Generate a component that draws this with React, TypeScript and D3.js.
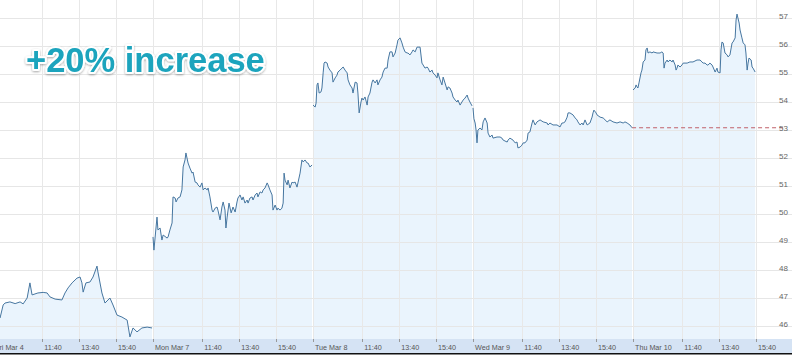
import React from "react";
import * as d3 from "d3";

// minutes since 9:00 session open, price
const friData: [number, number][] = [
  [0, 46.7], [23, 46.29], [33, 46.75], [39, 46.82], [55, 46.86], [72, 46.8], [88, 46.86], [98, 46.79],
  [111, 47.0], [120, 47.54], [127, 47.11], [146, 47.18], [163, 47.2], [176, 47.18], [185, 47.04],
  [202, 46.96], [224, 46.93], [234, 47.18], [244, 47.36], [257, 47.54], [273, 47.71], [283, 47.75],
  [289, 47.54], [293, 47.21], [302, 47.54], [315, 47.57], [325, 47.75], [338, 48.14], [341, 47.93],
  [354, 47.18], [364, 46.82], [380, 47.0], [390, 46.75], [403, 46.39], [419, 46.32], [436, 46.21],
  [445, 45.61], [455, 45.93], [468, 45.79], [484, 45.93], [501, 45.96], [517, 45.93],
];
const monData: [number, number][] = [
  [0, 49.18], [3, 48.71], [13, 49.89], [16, 49.43], [23, 49.5], [29, 49.07], [33, 49.25], [46, 49.14],
  [49, 49.18], [55, 49.43], [62, 49.68], [65, 50.61], [72, 50.57], [75, 50.43], [81, 50.57], [88, 50.61],
  [94, 50.86], [98, 51.68], [104, 51.93], [107, 52.18], [114, 51.82], [120, 51.64], [127, 51.46],
  [130, 51.5], [137, 51.14], [143, 51.11], [146, 51.04], [153, 50.96], [159, 51.11], [163, 50.86],
  [169, 50.93], [176, 50.86], [179, 50.93], [185, 50.61], [192, 50.14], [195, 50.07], [202, 50.21],
  [208, 50.25], [211, 50.14], [218, 49.79], [224, 50.25], [228, 50.43], [234, 50.14], [237, 49.5],
  [241, 49.89], [247, 50.39], [254, 50.04], [260, 50.25], [267, 50.07], [273, 50.43], [276, 50.57],
  [283, 50.68], [289, 50.5], [293, 50.61], [299, 50.39], [306, 50.5], [309, 50.39], [315, 50.57],
  [322, 50.61], [325, 50.5], [332, 50.68], [338, 50.75], [341, 50.61], [348, 50.79], [354, 50.75],
  [358, 50.86], [364, 50.93], [371, 51.11], [374, 51.04], [380, 50.86], [387, 50.68], [390, 50.14],
  [397, 50.32], [403, 50.14], [406, 50.21], [413, 50.14], [419, 50.21], [423, 50.39], [426, 51.46],
  [429, 51.21], [436, 51.04], [439, 51.21], [445, 50.93], [452, 51.14], [455, 51.11], [462, 51.14],
  [468, 50.96], [471, 51.11], [478, 51.46], [484, 51.93], [488, 51.86], [494, 51.93], [501, 51.82],
  [504, 51.82], [510, 51.68], [517, 51.75],
];
const tueData: [number, number][] = [
  [0, 53.89], [7, 53.82], [10, 53.96], [13, 54.61], [16, 54.68], [20, 54.32], [26, 54.36], [29, 54.5],
  [33, 55.04], [36, 55.39], [39, 55.43], [46, 55.39], [49, 55.25], [55, 55.14], [62, 55.04], [65, 54.71],
  [72, 54.86], [78, 54.96], [81, 55.07], [88, 55.14], [94, 55.21], [98, 55.25], [104, 55.14],
  [111, 55.04], [114, 54.79], [120, 54.61], [127, 54.5], [130, 54.32], [137, 54.71], [143, 54.68],
  [146, 54.32], [150, 53.61], [156, 54.0], [159, 54.14], [163, 54.07], [169, 54.18], [176, 53.89],
  [179, 54.18], [185, 54.32], [192, 54.71], [195, 54.79], [202, 54.68], [208, 54.79], [211, 54.61],
  [218, 54.79], [224, 54.89], [228, 55.07], [234, 55.21], [241, 55.21], [244, 55.5], [250, 55.79],
  [257, 55.79], [260, 55.61], [267, 55.75], [273, 56.04], [276, 56.21], [283, 56.29], [289, 56.11],
  [293, 55.96], [299, 55.79], [306, 55.75], [309, 55.75], [315, 55.68], [322, 55.79], [325, 55.86],
  [332, 55.79], [338, 55.96], [341, 55.96], [348, 55.96], [354, 55.39], [358, 55.32], [364, 55.21],
  [371, 55.25], [374, 55.21], [380, 55.07], [387, 55.14], [390, 55.04], [397, 54.96], [403, 54.86],
  [406, 55.04], [413, 54.79], [419, 54.61], [423, 54.89], [429, 54.68], [436, 54.43], [439, 54.54],
  [445, 54.5], [452, 54.32], [455, 54.18], [462, 54.07], [468, 54.0], [471, 54.07], [478, 53.89],
  [484, 54.0], [488, 54.07], [494, 54.14], [501, 54.25], [504, 54.14], [510, 54.0], [517, 53.86],
];
const wedData: [number, number][] = [
  [0, 53.79], [3, 53.4], [7, 53.25], [10, 53.0], [13, 52.54], [16, 53.0], [23, 53.07], [29, 53.0],
  [33, 53.29], [39, 53.43], [46, 53.25], [49, 52.89], [55, 52.75], [62, 52.82], [65, 52.71], [78, 52.75],
  [88, 52.75], [94, 52.71], [98, 52.64], [111, 52.57], [114, 52.64], [120, 52.71], [130, 52.64],
  [137, 52.54], [143, 52.57], [146, 52.36], [153, 52.39], [159, 52.46], [163, 52.54], [169, 52.54],
  [176, 52.64], [179, 52.89], [185, 52.93], [192, 53.25], [195, 53.36], [202, 53.18], [208, 53.29],
  [218, 53.36], [228, 53.29], [241, 53.25], [244, 53.18], [250, 53.25], [260, 53.18], [273, 53.18],
  [283, 53.11], [289, 53.25], [293, 53.25], [299, 53.29], [306, 53.46], [309, 53.61], [315, 53.61],
  [325, 53.54], [332, 53.43], [338, 53.36], [341, 53.29], [348, 53.18], [354, 53.25], [358, 53.18],
  [364, 53.36], [371, 53.18], [380, 53.25], [387, 53.46], [390, 53.61], [393, 53.71], [400, 53.61],
  [403, 53.54], [413, 53.46], [423, 53.43], [436, 53.29], [445, 53.36], [455, 53.29], [468, 53.25],
  [478, 53.29], [488, 53.25], [494, 53.29], [501, 53.25], [510, 53.18], [517, 53.08],
];
const thuData: [number, number][] = [
  [0, 54.43], [7, 54.5], [10, 54.61], [13, 54.54], [16, 54.5], [20, 54.71], [26, 55.04], [29, 55.14],
  [33, 55.43], [39, 55.5], [42, 55.86], [46, 55.93], [49, 55.75], [55, 55.79], [62, 55.75], [65, 55.79],
  [78, 55.75], [88, 55.75], [94, 55.79], [98, 55.75], [101, 55.21], [104, 55.39], [111, 55.5],
  [114, 55.43], [120, 55.5], [127, 55.43], [130, 55.5], [137, 55.32], [140, 55.14], [143, 55.21],
  [146, 55.32], [153, 55.25], [159, 55.32], [163, 55.39], [176, 55.39], [185, 55.43], [195, 55.43],
  [208, 55.5], [218, 55.5], [224, 55.43], [228, 55.39], [234, 55.39], [241, 55.32], [244, 55.32],
  [250, 55.39], [257, 55.32], [260, 55.25], [267, 55.07], [273, 55.21], [276, 55.07], [283, 55.04],
  [286, 55.86], [289, 56.14], [293, 56.11], [299, 55.75], [306, 55.68], [309, 55.61], [315, 55.68],
  [322, 56.11], [325, 56.14], [332, 56.29], [335, 56.93], [338, 57.14], [341, 57.0], [345, 56.82],
  [348, 56.57], [354, 56.29], [358, 56.11], [364, 56.04], [367, 55.75], [371, 55.14], [374, 55.39],
  [377, 55.57], [384, 55.5], [387, 55.25], [390, 55.21], [397, 55.07],
];

const dayLabels = ["Fri Mar 4", "Mon Mar 7", "Tue Mar 8", "Wed Mar 9", "Thu Mar 10"];
const dayData = [friData, monData, tueData, wedData, thuData];
const timeTicks = [160, 280, 400]; // minutes after 9:00
const timeTickLabels = ["11:40", "13:40", "15:40"];
const yTicks = [46, 47, 48, 49, 50, 51, 52, 53, 54, 55, 56, 57];
const prevClose = 53.08;
const titleText = "+20% increase";

const W = 792;
const H = 356;
const DAY_MIN = 520;
const PLOT_BOTTOM = 339;
const BAND_BOTTOM = 353;

export default function App() {
  const x = d3.scaleLinear().domain([0, DAY_MIN * dayLabels.length]).range([-7, 793]);
  const y = d3.scaleLinear().domain([46, 57]).range([326, 18]);

  const line = d3
    .line<[number, number]>()
    .x((d) => x(d[0]))
    .y((d) => y(d[1]));
  const area = d3
    .area<[number, number]>()
    .x((d) => x(d[0]))
    .y0(PLOT_BOTTOM)
    .y1((d) => y(d[1]));

  const ticks: { pos: number; label: string }[] = [];
  dayLabels.forEach((lab, i) => {
    ticks.push({ pos: i * DAY_MIN, label: lab });
    timeTicks.forEach((t, j) => ticks.push({ pos: i * DAY_MIN + t, label: timeTickLabels[j] }));
  });

  const lastDay = dayData.length - 2;
  const wed = dayData[lastDay];
  const dashStart = x(lastDay * DAY_MIN + wed[wed.length - 1][0]);

  return (
    <svg
      width={W}
      height={H}
      style={{ position: "absolute", left: 0, top: 0, display: "block", background: "#fff" }}
      fontFamily="'Liberation Sans', Arial, sans-serif"
    >
      <defs>
        <filter id="sh" x="-10%" y="-30%" width="120%" height="160%">
          <feDropShadow dx="0" dy="1" stdDeviation="1.2" floodColor="#000" floodOpacity="0.35" />
        </filter>
      </defs>
      <rect x={0} y={0} width={W} height={H} fill="#fff" />
      {dayData.map((d, i) => (
        <path
          key={"a" + i}
          d={area(d.map((p) => [p[0] + i * DAY_MIN, p[1]] as [number, number])) || ""}
          fill="#eaf4fd"
        />
      ))}
      {yTicks.map((v) => (
        <line key={"h" + v} x1={0} x2={W} y1={y(v) + 0.5} y2={y(v) + 0.5} stroke="#e6e6e6" strokeWidth={1} />
      ))}
      {ticks.map((t, i) => (
        <line
          key={"v" + i}
          x1={Math.round(x(t.pos)) + 0.5}
          x2={Math.round(x(t.pos)) + 0.5}
          y1={0}
          y2={PLOT_BOTTOM}
          stroke="#e8e8e8"
          strokeWidth={1}
        />
      ))}
      <line
        x1={dashStart}
        x2={786}
        y1={y(prevClose)}
        y2={y(prevClose)}
        stroke="#c0606a"
        strokeWidth={1}
        strokeDasharray="4,3"
      />
      {dayData.map((d, i) => (
        <path
          key={"l" + i}
          d={line(d.map((p) => [p[0] + i * DAY_MIN, p[1]] as [number, number])) || ""}
          fill="none"
          stroke="#4676a0"
          strokeWidth={1}
          strokeLinejoin="round"
        />
      ))}
      {yTicks.map((v) => (
        <text key={"yl" + v} x={788} y={y(v) + 1} textAnchor="end" fontSize={8} fill="#666">
          {v}
        </text>
      ))}
      <rect x={0} y={PLOT_BOTTOM} width={W} height={BAND_BOTTOM - PLOT_BOTTOM} fill="#d5e3f4" />
      <rect x={0} y={BAND_BOTTOM} width={W} height={1.5} fill="#111" />
      {ticks.map((t, i) => (
        <line
          key={"t" + i}
          x1={Math.round(x(t.pos)) + 0.5}
          x2={Math.round(x(t.pos)) + 0.5}
          y1={PLOT_BOTTOM}
          y2={PLOT_BOTTOM + 3}
          stroke="#999"
          strokeWidth={1}
        />
      ))}
      {ticks.map((t, i) => (
        <text key={"xl" + i} x={x(t.pos) + 2} y={349.5} fontSize={7.2} fill="#555">
          {t.label}
        </text>
      ))}
      <text
        x={26}
        y={72}
        fontSize={34.5}
        fontWeight="bold"
        fill="#1ba4bd"
        stroke="#fff"
        strokeWidth={4}
        strokeLinejoin="round"
        paintOrder="stroke"
        filter="url(#sh)"
      >
        {titleText}
      </text>
    </svg>
  );
}
